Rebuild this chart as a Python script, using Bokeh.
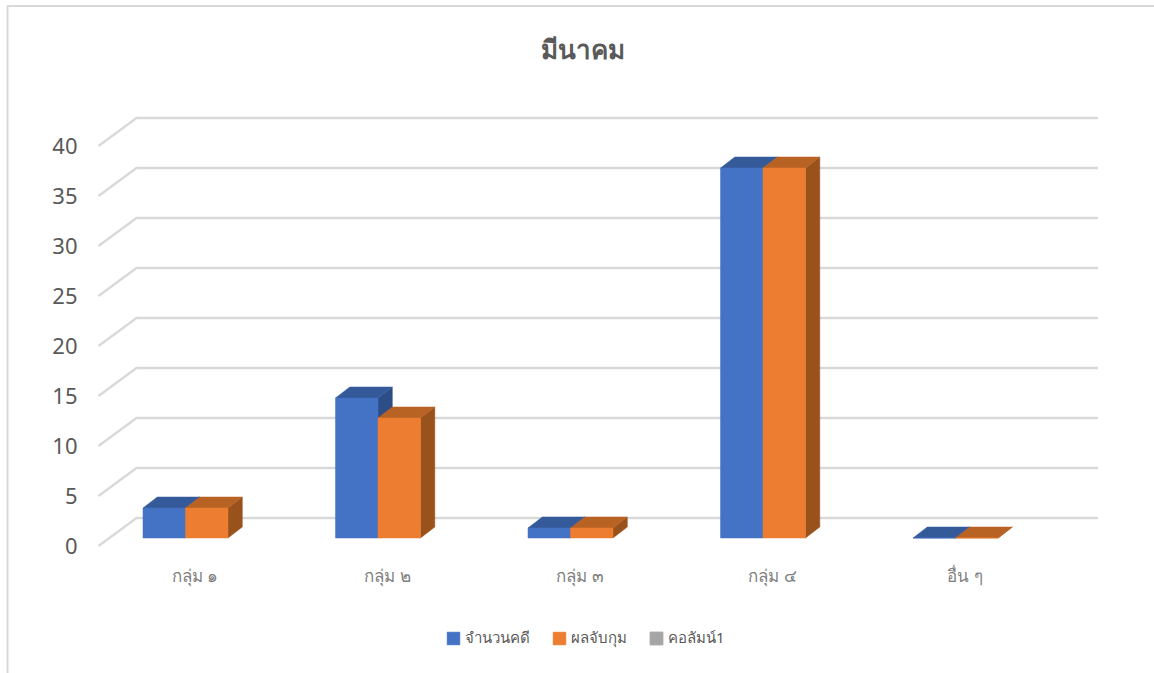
from bokeh.plotting import figure
from bokeh.embed import file_html
from bokeh.resources import INLINE
from bokeh.models import (ColumnDataSource, Range1d, FixedTicker, Legend, LegendItem, Label)

title_text = "มีนาคม"
categories = ["กลุ่ม ๑", "กลุ่ม ๒", "กลุ่ม ๓", "กลุ่ม ๔", "อื่น ๆ"]
series_names = ["จำนวนคดี", "ผลจับกุม", "คอลัมน์1"]
cases = [3, 14, 1, 37, 0]
arrests = [3, 12, 1, 37, 0]
column1 = [0, 0, 0, 0, 0]
y_ticks = [0, 5, 10, 15, 20, 25, 30, 35, 40]

FONT = "Noto Sans"
W, H = 1154, 673
PX_X = 192.5   # px per category
PX_Y = 10.0    # px per value unit
X0_PAGE = 194.5  # canvas x of category 0
Y0_PAGE = 545.5  # canvas y of value 0 on the front of the floor

xr = Range1d((0 - X0_PAGE) / PX_X, (W - X0_PAGE) / PX_X)
yr = Range1d((Y0_PAGE - H) / PX_Y, (Y0_PAGE - 0) / PX_Y)

p = figure(width=W, height=H, x_range=xr, y_range=yr, output_backend="svg", toolbar_location=None,
           min_border=0, outline_line_color=None, background_fill_color="white",
           border_fill_color="white")

DX_FLOOR = 38 / PX_X
DY_FLOOR = 28 / PX_Y
BAR_W = 42.5 / PX_X
DX_BAR = 14.3 / PX_X
DY_BAR = 11 / PX_Y
BASE_Y = (546 - 538) / PX_Y
SHIFT = (185 - X0_PAGE) / PX_X
XL = (98 - X0_PAGE) / PX_X
XE = (1097.5 - X0_PAGE) / PX_X

# chart frame: left and top edges
bx = (7 - X0_PAGE) / PX_X
by = (Y0_PAGE - 5.5) / PX_Y
p.line([bx, bx, xr.end], [yr.start, by, by], line_color="#D9D9D9", line_width=2)

for v in y_ticks:
    p.line([XL, XL + DX_FLOOR, XE], [v, v + DY_FLOOR, v + DY_FLOOR], line_color="#D9D9D9", line_width=2.4)

def box(values, offset, front, top, side):
    xs_t, ys_t, xs_s, ys_s = [], [], [], []
    lefts = [i + SHIFT + offset for i in range(len(values))]
    for xl, v in zip(lefts, values):
        y = BASE_Y + v
        xrt = xl + BAR_W
        xs_t.append([xl, xl + DX_BAR, xrt + DX_BAR, xrt])
        ys_t.append([y, y + DY_BAR, y + DY_BAR, y])
        xs_s.append([xrt, xrt + DX_BAR, xrt + DX_BAR, xrt])
        ys_s.append([BASE_Y, BASE_Y + DY_BAR, y + DY_BAR, y])
    p.patches(xs_s, ys_s, fill_color=side, line_color=side, line_width=0.5)
    p.patches(xs_t, ys_t, fill_color=top, line_color=top, line_width=0.5)
    src = ColumnDataSource(dict(x=[xl + BAR_W / 2 for xl in lefts], top=[BASE_Y + v for v in values]))
    return p.vbar(x="x", top="top", bottom=BASE_Y, width=BAR_W, source=src,
                  fill_color=front, line_color=front, line_width=0.5)

r1 = box(cases, -BAR_W, "#4472C4", "#355A9A", "#2C4D86")
r2 = box(arrests, 0, "#ED7D31", "#B86224", "#9A521C")
# third series has no bars: legend entry only
r3 = p.vbar(x=[0], top=[0], bottom=[0], width=0, fill_color="#A5A5A5", line_color="#A5A5A5")

p.xgrid.visible = False
p.ygrid.visible = False
p.yaxis.ticker = FixedTicker(ticks=y_ticks)
p.yaxis.axis_line_color = None
p.yaxis.major_tick_line_color = None
p.yaxis.minor_tick_line_color = None
p.yaxis.major_label_standoff = 15
p.yaxis.major_label_text_font = FONT
p.yaxis.major_label_text_font_size = "22px"
p.yaxis.major_label_text_color = "#595959"
p.yaxis.fixed_location = XL

p.xaxis.ticker = FixedTicker(ticks=list(range(len(categories))))
p.xaxis.major_label_overrides = {i: c for i, c in enumerate(categories)}
p.xaxis.axis_line_color = None
p.xaxis.major_tick_line_color = None
p.xaxis.minor_tick_line_color = None
p.xaxis.major_label_standoff = 3
p.xaxis.major_label_text_font = FONT
p.xaxis.major_label_text_font_size = "17px"
p.xaxis.major_label_text_color = "#7F7F7F"
p.xaxis.fixed_location = (546 - 555) / PX_Y

p.add_layout(Label(x=(582 - X0_PAGE) / PX_X, y=(Y0_PAGE - 48) / PX_Y, text=title_text, text_font=FONT,
                   text_font_size="26px", text_font_style="bold", text_color="#595959",
                   text_align="center", text_baseline="middle"))

legend = Legend(items=[LegendItem(label=n, renderers=[r]) for n, r in zip(series_names, [r1, r2, r3])],
                orientation="horizontal", location=(445, H - 650), glyph_width=16, glyph_height=16,
                label_text_font=FONT, label_text_font_size="15px", label_text_color="#595959",
                border_line_color=None, background_fill_alpha=0, padding=0, margin=0, spacing=21,
                label_standoff=4, label_height=16)
p.add_layout(legend, "center")

open("out.html", "w").write(file_html(p, INLINE))
